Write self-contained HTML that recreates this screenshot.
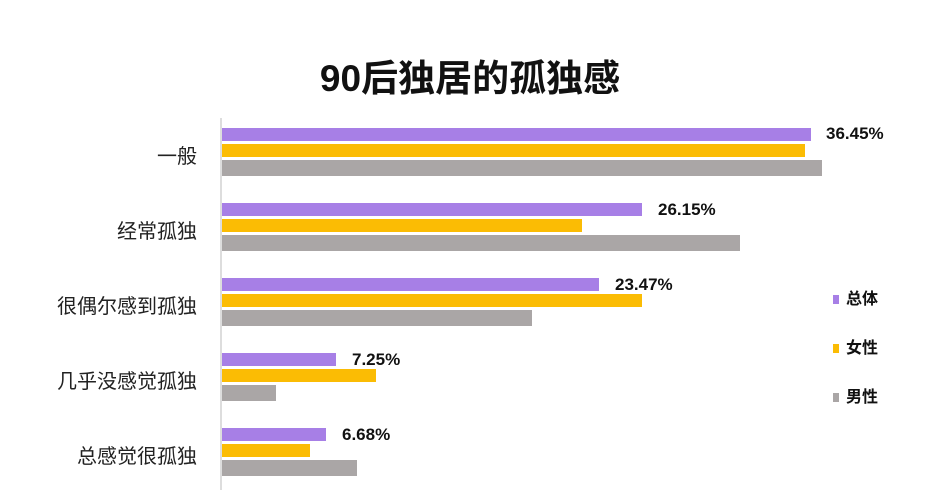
<!DOCTYPE html>
<html><head><meta charset="utf-8"><style>
body{margin:0;width:940px;height:499px;background:#fff;position:relative;overflow:hidden;font-family:"Liberation Sans","Noto Sans CJK SC",sans-serif}
.t{position:absolute;left:0;width:940px;top:48px;text-align:center;font-size:37px;font-weight:bold;color:#111}
.b{position:absolute;left:222px}
.p{background:#a77fe6}.o{background:#fbbc04}.g{background:#aaa6a6}
.c{position:absolute;right:743px;font-size:20px;color:#222;white-space:nowrap}
.v{position:absolute;font-size:17px;font-weight:bold;color:#111}
.l{position:absolute;left:833px;font-size:16px;font-weight:bold;color:#111}
.l i{display:inline-block;width:6px;height:9px;margin-right:7px;vertical-align:0}
</style></head><body>
<div class="t">90后独居的孤独感</div>
<div style="position:absolute;left:220px;top:118px;width:2px;height:372px;background:#ddd"></div>

<div class="b p" style="top:128px;width:589px;height:13px"></div>
<div class="b o" style="top:144px;width:583px;height:13px"></div>
<div class="b g" style="top:160px;width:600px;height:16px"></div>

<div class="b p" style="top:203px;width:420px;height:13px"></div>
<div class="b o" style="top:219px;width:360px;height:13px"></div>
<div class="b g" style="top:235px;width:518px;height:16px"></div>

<div class="b p" style="top:278px;width:377px;height:13px"></div>
<div class="b o" style="top:294px;width:420px;height:13px"></div>
<div class="b g" style="top:310px;width:310px;height:16px"></div>

<div class="b p" style="top:353px;width:114px;height:13px"></div>
<div class="b o" style="top:369px;width:154px;height:13px"></div>
<div class="b g" style="top:385px;width:54px;height:16px"></div>

<div class="b p" style="top:428px;width:104px;height:13px"></div>
<div class="b o" style="top:444px;width:88px;height:13px"></div>
<div class="b g" style="top:460px;width:135px;height:16px"></div>

<div class="v" style="left:826px;top:124px">36.45%</div>
<div class="v" style="left:658px;top:200px">26.15%</div>
<div class="v" style="left:615px;top:275px">23.47%</div>
<div class="v" style="left:352px;top:350px">7.25%</div>
<div class="v" style="left:342px;top:425px">6.68%</div>

<div class="c" style="top:140px">一般</div>
<div class="c" style="top:215px">经常孤独</div>
<div class="c" style="top:290px">很偶尔感到孤独</div>
<div class="c" style="top:365px">几乎没感觉孤独</div>
<div class="c" style="top:440px">总感觉很孤独</div>

<div class="l" style="top:285px"><i class="p"></i>总体</div>
<div class="l" style="top:334px"><i class="o"></i>女性</div>
<div class="l" style="top:383px"><i class="g"></i>男性</div>
</body></html>
